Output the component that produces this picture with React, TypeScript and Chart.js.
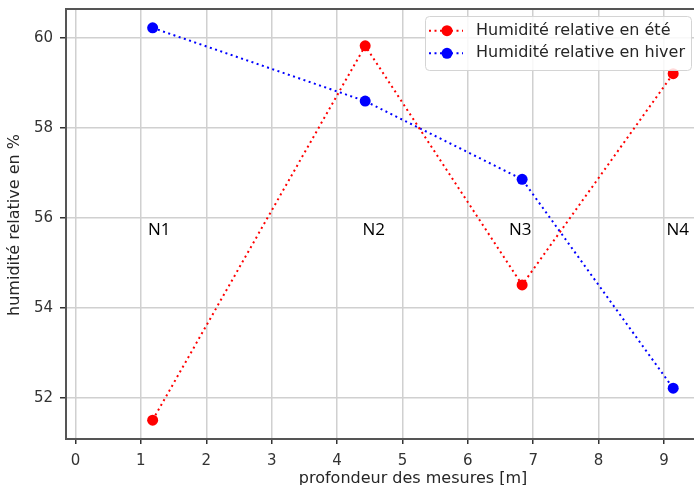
import { useEffect, useRef } from "react";
import { Chart, registerables } from "chart.js";

Chart.register(...registerables);

// ---- data ----
const depths = [1.18, 4.43, 6.83, 9.14];
const summerHumidity = [51.5, 59.83, 54.51, 59.21];
const winterHumidity = [60.23, 58.6, 56.86, 52.21];
const seriesNames = ["Humidité relative en été", "Humidité relative en hiver"];
const seriesColors = ["#ff0000", "#0000ff"];
const levelLabels = ["N1", "N2", "N3", "N4"];
const levelLabelX = [1.28, 4.56, 6.8, 9.21];
const levelLabelY = 55.73;
const xTitle = "profondeur des mesures [m]";
const yTitle = "humidité relative en %";

const FONT = "'DejaVu Sans', sans-serif";
const DASH = [2, 3.5];
const OFF = 7; // canvas is shifted up by this many pixels

const decorPlugin = {
  id: "decor",
  afterDatasetsDraw(chart: any) {
    const { ctx, scales } = chart;
    const xs = scales.x;
    const ys = scales.y;
    ctx.save();
    ctx.fillStyle = "#000";
    ctx.font = "17px 'Open Sans', sans-serif";
    ctx.textAlign = "center";
    ctx.textBaseline = "middle";
    levelLabels.forEach((t, i) => {
      ctx.fillText(t, xs.getPixelForValue(levelLabelX[i]), ys.getPixelForValue(levelLabelY));
    });
    ctx.restore();
  },
  afterDraw(chart: any) {
    const { ctx, chartArea } = chart;
    ctx.save();
    // top spine
    ctx.strokeStyle = "#555";
    ctx.lineWidth = 2;
    ctx.beginPath();
    ctx.moveTo(chartArea.left - 1, chartArea.top);
    ctx.lineTo(chartArea.right, chartArea.top);
    ctx.stroke();

    // axis titles
    ctx.fillStyle = "#262626";
    ctx.font = `16px ${FONT}`;
    ctx.textAlign = "center";
    ctx.textBaseline = "top";
    ctx.fillText(xTitle, 413, 471 + OFF);
    ctx.save();
    ctx.translate(15, 225 + OFF);
    ctx.rotate(-Math.PI / 2);
    ctx.textBaseline = "middle";
    ctx.fillText(yTitle, 0, 0);
    ctx.restore();

    // legend
    const bx = 425.5, by = 16.5 + OFF, bw = 266, bh = 54, r = 4;
    ctx.beginPath();
    ctx.moveTo(bx + r, by);
    ctx.lineTo(bx + bw - r, by);
    ctx.arcTo(bx + bw, by, bx + bw, by + r, r);
    ctx.lineTo(bx + bw, by + bh - r);
    ctx.arcTo(bx + bw, by + bh, bx + bw - r, by + bh, r);
    ctx.lineTo(bx + r, by + bh);
    ctx.arcTo(bx, by + bh, bx, by + bh - r, r);
    ctx.lineTo(bx, by + r);
    ctx.arcTo(bx, by, bx + r, by, r);
    ctx.closePath();
    ctx.fillStyle = "rgba(255,255,255,0.85)";
    ctx.fill();
    ctx.strokeStyle = "#d4d4d4";
    ctx.lineWidth = 1;
    ctx.stroke();

    const rows = [30.7 + OFF, 53.3 + OFF];
    chart.data.datasets.forEach((ds: any, i: number) => {
      const y = rows[i];
      ctx.strokeStyle = ds.borderColor;
      ctx.lineWidth = 2;
      ctx.setLineDash(DASH);
      ctx.beginPath();
      ctx.moveTo(429, y);
      ctx.lineTo(463, y);
      ctx.stroke();
      ctx.setLineDash([]);
      ctx.fillStyle = ds.borderColor;
      ctx.beginPath();
      ctx.arc(447, y, 5.5, 0, Math.PI * 2);
      ctx.fill();
      ctx.fillStyle = "#262626";
      ctx.font = `16px ${FONT}`;
      ctx.textAlign = "left";
      ctx.textBaseline = "middle";
      ctx.fillText(ds.label, 476, y);
    });
    ctx.restore();
  },
};

export default function App() {
  const ref = useRef<HTMLCanvasElement | null>(null);

  useEffect(() => {
    if (!ref.current) return;
    const mk = (vals: number[], i: number) => ({
      label: seriesNames[i],
      data: depths.map((d, k) => ({ x: d, y: vals[k] })),
      borderColor: seriesColors[i],
      backgroundColor: seriesColors[i],
      pointBackgroundColor: seriesColors[i],
      pointBorderColor: seriesColors[i],
      pointBorderWidth: 0,
      pointRadius: 5.5,
      borderWidth: 2,
      borderDash: DASH,
      showLine: true,
      fill: false,
      tension: 0,
    });
    const chart = new Chart(ref.current, {
      type: "scatter",
      data: { datasets: [mk(summerHumidity, 0), mk(winterHumidity, 1)] },
      options: {
        animation: false,
        responsive: false,
        devicePixelRatio: 1,
        layout: { padding: { top: 9, right: 10, left: 0, bottom: 0 } },
        plugins: { legend: { display: false }, tooltip: { enabled: false } },
        scales: {
          x: {
            type: "linear",
            min: -0.145,
            max: 9.55,
            ticks: {
              stepSize: 1,
              includeBounds: false,
              autoSkip: false,
              maxRotation: 0,
              padding: 8,
              color: "#333",
              font: { family: FONT, size: 15 },
            },
            grid: { color: "#d0d0d0", lineWidth: 1.5, tickColor: "#333", tickLength: 5, tickWidth: 1.5 },
            border: { color: "#555", width: 2 },
            afterFit: (s: any) => {
              s.height = 61;
            },
          },
          y: {
            type: "linear",
            min: 51.08,
            max: 60.65,
            ticks: {
              stepSize: 2,
              includeBounds: false,
              padding: 7,
              color: "#333",
              font: { family: FONT, size: 15 },
            },
            grid: { color: "#d0d0d0", lineWidth: 1.5, tickColor: "#333", tickLength: 6, tickWidth: 1.5 },
            border: { color: "#555", width: 2 },
            afterFit: (s: any) => {
              s.width = 66;
            },
          },
        },
      },
      plugins: [decorPlugin],
    } as any);
    return () => chart.destroy();
  }, []);

  return (
    <div
      style={{
        position: "fixed",
        left: 0,
        top: 0,
        width: 694,
        height: 485,
        overflow: "hidden",
        background: "#fff",
      }}
    >
      <canvas
        ref={ref}
        width={710}
        height={507}
        style={{ width: 710, height: 507, display: "block", marginTop: -OFF }}
      />
    </div>
  );
}
